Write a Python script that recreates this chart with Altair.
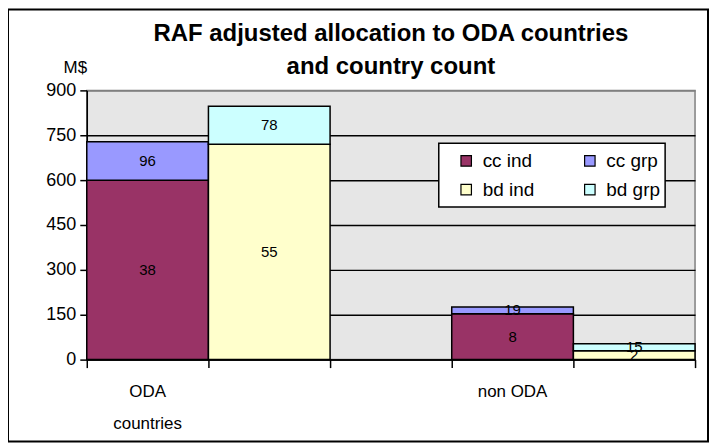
import altair as alt
import pandas as pd

# ---- data ----
groups = ["ODA countries", "non ODA"]
group_labels = ["ODA\ncountries", "non ODA"]
series = ["cc ind", "cc grp", "bd ind", "bd grp"]
colors = ["#993366", "#9999FF", "#FFFFCC", "#CCFFFF"]

cc_ind = [600, 153]
cc_grp = [128, 23]
bd_ind = [720, 30]
bd_grp = [127, 23]

cc_ind_n = [38, 8]
cc_grp_n = [96, 19]
bd_ind_n = [55, 2]
bd_grp_n = [78, 15]

y_ticks = [0, 150, 300, 450, 600, 750, 900]
title_line1 = "RAF adjusted allocation to ODA countries"
title_line2 = "and country count"

# ---- build table ----
rows = []
for gi, g in enumerate(groups):
    for bi, (ind, grp, ind_n, grp_n, s_ind, s_grp) in enumerate([
        (cc_ind, cc_grp, cc_ind_n, cc_grp_n, "cc ind", "cc grp"),
        (bd_ind, bd_grp, bd_ind_n, bd_grp_n, "bd ind", "bd grp"),
    ]):
        slot = gi * 3 + bi
        y1 = ind[gi]
        rows.append(dict(group=g, series=s_ind, xs=slot, xe=slot + 1,
                         y0=0, y1=y1, n=ind_n[gi]))
        rows.append(dict(group=g, series=s_grp, xs=slot, xe=slot + 1,
                         y0=y1, y1=y1 + grp[gi], n=grp_n[gi]))
df = pd.DataFrame(rows)
df["mid"] = (df["y0"] + df["y1"]) / 2
df["xm"] = (df["xs"] + df["xe"]) / 2

cat_df = pd.DataFrame({"label": group_labels, "x": [0.5, 3.5]})
one = pd.DataFrame({"a": [0]})

W, H = 610, 270
FONT = "Liberation Sans"

xscale = alt.Scale(domain=[0, 5], nice=False, zero=False)
yscale = alt.Scale(domain=[0, 900], nice=False)

legend_box = alt.Chart(one).mark_rect(fill="white", stroke="black",
                                      strokeWidth=1.5).encode(
    x=alt.value(353), x2=alt.value(580),
    y=alt.value(53), y2=alt.value(117),
)

bars = alt.Chart(df).mark_rect(stroke="black", strokeWidth=1.5).encode(
    x=alt.X("xs:Q", scale=xscale,
            axis=alt.Axis(values=[0, 1, 2, 3, 4, 5], labels=False, title=None,
                          grid=False, tickSize=8, tickColor="black",
                          domainColor="black", tickWidth=1.5, domainWidth=1.5)),
    x2="xe:Q",
    y=alt.Y("y0:Q", scale=yscale,
            axis=alt.Axis(values=y_ticks, title="M$", titleAngle=0,
                          titleX=-12, titleY=-14, titleAlign="center",
                          titleFontWeight="normal", titleFontSize=17,
                          titleFont=FONT, titleColor="black",
                          labelFontSize=18, labelFont=FONT, labelColor="black",
                          labelPadding=4, tickSize=7, tickColor="black",
                          tickWidth=1.5, domainColor="black", domainWidth=1.5,
                          grid=True, gridWidth=1.5,
                          gridColor={"condition": {"test": "datum.value >= 900",
                                                   "value": "#808080"},
                                     "value": "black"})),
    y2="y1:Q",
    color=alt.Color("series:N",
                    scale=alt.Scale(domain=series, range=colors),
                    legend=alt.Legend(title=None, orient="none",
                                      legendX=371, legendY=61, columns=2,
                                      direction="horizontal",
                                      padding=0, columnPadding=46,
                                      rowPadding=9, symbolType="square",
                                      symbolSize=110, symbolStrokeColor="black",
                                      symbolStrokeWidth=1.2, labelFontSize=19,
                                      labelFont=FONT, labelColor="black",
                                      labelOffset=7)),
)

labels = alt.Chart(df).mark_text(fontSize=15, font=FONT, color="black",
                                 baseline="middle").encode(
    x=alt.X("xm:Q", scale=xscale),
    y=alt.Y("mid:Q", scale=yscale),
    text="n:Q",
)

cats = alt.Chart(cat_df).mark_text(fontSize=17, font=FONT, color="black",
                                   baseline="middle", lineBreak="\n",
                                   lineHeight=33).encode(
    x=alt.X("x:Q", scale=xscale),
    y=alt.value(H + 32),
    text="label:N",
)

t1 = alt.Chart(one).mark_text(fontSize=24, fontWeight="bold", font=FONT,
                              color="black", baseline="middle",
                              text=title_line1).encode(
    x=alt.value(W / 2), y=alt.value(-57))
t2 = alt.Chart(one).mark_text(fontSize=24, fontWeight="bold", font=FONT,
                              color="black", baseline="middle",
                              text=title_line2).encode(
    x=alt.value(W / 2), y=alt.value(-23))

frame = alt.Chart(one).mark_rect(
    fill=None, stroke="black", strokeWidth=2).encode(
    x=alt.value(-79), x2=alt.value(W + 13),
    y=alt.value(-81), y2=alt.value(H + 82),
)

chart = alt.layer(legend_box, bars, labels, cats, t1, t2, frame).properties(
    width=W, height=H,
    autosize=alt.AutoSizeParams(type="none"),
    padding={"left": 79, "top": 82, "right": 14, "bottom": 84},
    background="white",
).configure_view(fill="#e6e6e6", stroke="#808080", strokeWidth=1.5)

chart.save("out.html", embed_options={"renderer": "svg", "actions": False})
